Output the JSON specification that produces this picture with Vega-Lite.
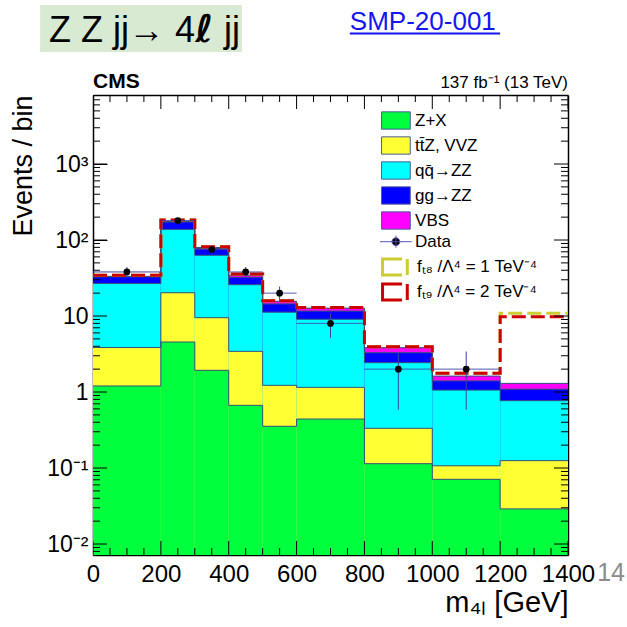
{
  "$schema": "https://vega.github.io/schema/vega-lite/v6.json",
  "width": 475,
  "height": 460,
  "autosize": {"type": "none"},
  "padding": {"left": 93, "top": 95, "right": 59, "bottom": 72},
  "background": "white",
  "config": {
    "view": {"stroke": null},
    "axis": {"grid": false, "domain": false, "ticks": true, "tickColor": "black", "tickOpacity": 1, "tickWidth": 1, "labelFont": "Liberation Sans", "titleFont": "Liberation Sans", "labelColor": "black", "titleColor": "black", "titleFontWeight": "normal", "zindex": 1, "labelFlush": false, "labelOverlap": false},
    "legend": {"labelFont": "Liberation Sans", "labelFontSize": 17, "labelColor": "black", "labelLimit": 300, "padding": 0, "symbolSize": 299, "labelOffset": 9.65, "rowPadding": 2.0, "symbolOpacity": 1},
    "text": {"font": "Liberation Sans"}
  },
  "datasets": {
    "mc": [
      {"lo": 0, "hi": 200, "key": "VBS", "k": 5, "v": 0.5},
      {"lo": 0, "hi": 200, "key": "ggZZ", "k": 4, "v": 5.9},
      {"lo": 0, "hi": 200, "key": "qqZZ", "k": 3, "v": 23.0},
      {"lo": 0, "hi": 200, "key": "ttZ", "k": 2, "v": 2.65},
      {"lo": 0, "hi": 200, "key": "ZX", "k": 1, "v": 1.2},
      {"lo": 200, "hi": 300, "key": "VBS", "k": 5, "v": 2.5},
      {"lo": 200, "hi": 300, "key": "ggZZ", "k": 4, "v": 34.5},
      {"lo": 200, "hi": 300, "key": "qqZZ", "k": 3, "v": 117.8},
      {"lo": 200, "hi": 300, "key": "ttZ", "k": 2, "v": 15.7},
      {"lo": 200, "hi": 300, "key": "ZX", "k": 1, "v": 4.55},
      {"lo": 300, "hi": 400, "key": "VBS", "k": 5, "v": 2.0},
      {"lo": 300, "hi": 400, "key": "ggZZ", "k": 4, "v": 14.8},
      {"lo": 300, "hi": 400, "key": "qqZZ", "k": 3, "v": 53.5},
      {"lo": 300, "hi": 400, "key": "ttZ", "k": 2, "v": 7.57},
      {"lo": 300, "hi": 400, "key": "ZX", "k": 1, "v": 1.93},
      {"lo": 400, "hi": 500, "key": "VBS", "k": 5, "v": 2.0},
      {"lo": 400, "hi": 500, "key": "ggZZ", "k": 4, "v": 6.5},
      {"lo": 400, "hi": 500, "key": "qqZZ", "k": 3, "v": 22.4},
      {"lo": 400, "hi": 500, "key": "ttZ", "k": 2, "v": 2.76},
      {"lo": 400, "hi": 500, "key": "ZX", "k": 1, "v": 0.668},
      {"lo": 500, "hi": 600, "key": "VBS", "k": 5, "v": 1.2},
      {"lo": 500, "hi": 600, "key": "ggZZ", "k": 4, "v": 3.2},
      {"lo": 500, "hi": 600, "key": "qqZZ", "k": 3, "v": 10.0},
      {"lo": 500, "hi": 600, "key": "ttZ", "k": 2, "v": 0.87},
      {"lo": 500, "hi": 600, "key": "ZX", "k": 1, "v": 0.354},
      {"lo": 600, "hi": 800, "key": "VBS", "k": 5, "v": 1.1},
      {"lo": 600, "hi": 800, "key": "ggZZ", "k": 4, "v": 2.53},
      {"lo": 600, "hi": 800, "key": "qqZZ", "k": 3, "v": 7.92},
      {"lo": 600, "hi": 800, "key": "ttZ", "k": 2, "v": 0.71},
      {"lo": 600, "hi": 800, "key": "ZX", "k": 1, "v": 0.441},
      {"lo": 800, "hi": 1000, "key": "VBS", "k": 5, "v": 0.54},
      {"lo": 800, "hi": 1000, "key": "ggZZ", "k": 4, "v": 0.86},
      {"lo": 800, "hi": 1000, "key": "qqZZ", "k": 3, "v": 2.10},
      {"lo": 800, "hi": 1000, "key": "ttZ", "k": 2, "v": 0.219},
      {"lo": 800, "hi": 1000, "key": "ZX", "k": 1, "v": 0.114},
      {"lo": 1000, "hi": 1200, "key": "VBS", "k": 5, "v": 0.22},
      {"lo": 1000, "hi": 1200, "key": "ggZZ", "k": 4, "v": 0.34},
      {"lo": 1000, "hi": 1200, "key": "qqZZ", "k": 3, "v": 0.953},
      {"lo": 1000, "hi": 1200, "key": "ttZ", "k": 2, "v": 0.036},
      {"lo": 1000, "hi": 1200, "key": "ZX", "k": 1, "v": 0.071},
      {"lo": 1200, "hi": 1400, "key": "VBS", "k": 5, "v": 0.21},
      {"lo": 1200, "hi": 1400, "key": "ggZZ", "k": 4, "v": 0.32},
      {"lo": 1200, "hi": 1400, "key": "qqZZ", "k": 3, "v": 0.644},
      {"lo": 1200, "hi": 1400, "key": "ttZ", "k": 2, "v": 0.096},
      {"lo": 1200, "hi": 1400, "key": "ZX", "k": 1, "v": 0.029}
    ],
    "sig": [
      {"lo": 0, "hi": 200, "key": "T8", "v": 34.3},
      {"lo": 200, "hi": 300, "key": "T8", "v": 183},
      {"lo": 300, "hi": 400, "key": "T8", "v": 81.6},
      {"lo": 400, "hi": 500, "key": "T8", "v": 35.7},
      {"lo": 500, "hi": 600, "key": "T8", "v": 15.9},
      {"lo": 600, "hi": 800, "key": "T8", "v": 12.9},
      {"lo": 800, "hi": 1000, "key": "T8", "v": 3.94},
      {"lo": 1000, "hi": 1200, "key": "T8", "v": 1.76},
      {"lo": 1200, "hi": 1400, "key": "T8", "v": 10.9},
      {"lo": 0, "hi": 200, "key": "T9", "v": 34.3},
      {"lo": 200, "hi": 300, "key": "T9", "v": 183},
      {"lo": 300, "hi": 400, "key": "T9", "v": 81.6},
      {"lo": 400, "hi": 500, "key": "T9", "v": 35.7},
      {"lo": 500, "hi": 600, "key": "T9", "v": 15.9},
      {"lo": 600, "hi": 800, "key": "T9", "v": 12.9},
      {"lo": 800, "hi": 1000, "key": "T9", "v": 3.94},
      {"lo": 1000, "hi": 1200, "key": "T9", "v": 1.76},
      {"lo": 1200, "hi": 1400, "key": "T9", "v": 9.8}
    ],
    "obs": [
      {"lo": 0, "hi": 200, "c": 100, "n": 38, "dn": 31.84, "up": 44.16},
      {"lo": 200, "hi": 300, "c": 250, "n": 180, "dn": 166.6, "up": 193.4},
      {"lo": 300, "hi": 400, "c": 350, "n": 75, "dn": 66.34, "up": 83.66},
      {"lo": 400, "hi": 500, "c": 450, "n": 38, "dn": 31.84, "up": 44.16},
      {"lo": 500, "hi": 600, "c": 550, "n": 20, "dn": 15.53, "up": 24.47},
      {"lo": 600, "hi": 800, "c": 700, "n": 8, "dn": 5.17, "up": 10.83},
      {"lo": 800, "hi": 1000, "c": 900, "n": 2, "dn": 0.586, "up": 3.414},
      {"lo": 1000, "hi": 1200, "c": 1100, "n": 2, "dn": 0.586, "up": 3.414}
    ],
    "xmajor": [{"tick": 0}, {"tick": 200}, {"tick": 400}, {"tick": 600}, {"tick": 800}, {"tick": 1000}, {"tick": 1200}, {"tick": 1400}],
    "xminor": [{"tick": 50}, {"tick": 100}, {"tick": 150}, {"tick": 250}, {"tick": 300}, {"tick": 350}, {"tick": 450}, {"tick": 500}, {"tick": 550}, {"tick": 650}, {"tick": 700}, {"tick": 750}, {"tick": 850}, {"tick": 900}, {"tick": 950}, {"tick": 1050}, {"tick": 1100}, {"tick": 1150}, {"tick": 1250}, {"tick": 1300}, {"tick": 1350}],
    "ymajor": [{"tick": 0.01}, {"tick": 0.1}, {"tick": 1}, {"tick": 10}, {"tick": 100}, {"tick": 1000}],
    "yminor": [{"tick": 0.008}, {"tick": 0.009}, {"tick": 0.02}, {"tick": 0.03}, {"tick": 0.04}, {"tick": 0.05}, {"tick": 0.06}, {"tick": 0.07}, {"tick": 0.08}, {"tick": 0.09}, {"tick": 0.2}, {"tick": 0.3}, {"tick": 0.4}, {"tick": 0.5}, {"tick": 0.6}, {"tick": 0.7}, {"tick": 0.8}, {"tick": 0.9}, {"tick": 2}, {"tick": 3}, {"tick": 4}, {"tick": 5}, {"tick": 6}, {"tick": 7}, {"tick": 8}, {"tick": 9}, {"tick": 20}, {"tick": 30}, {"tick": 40}, {"tick": 50}, {"tick": 60}, {"tick": 70}, {"tick": 80}, {"tick": 90}, {"tick": 200}, {"tick": 300}, {"tick": 400}, {"tick": 500}, {"tick": 600}, {"tick": 700}, {"tick": 800}, {"tick": 900}, {"tick": 2000}, {"tick": 3000}, {"tick": 4000}, {"tick": 5000}, {"tick": 6000}, {"tick": 7000}, {"tick": 8000}]
  },
  "layer": [
    {
      "data": {"name": "mc"},
      "transform": [{"stack": "v", "groupby": ["lo"], "sort": [{"field": "k", "order": "ascending"}], "as": ["y0", "y1"]}],
      "mark": {"type": "rect", "clip": true},
      "encoding": {
        "x": {"field": "lo", "type": "quantitative", "scale": {"domain": [0, 1400], "nice": false, "zero": false},
          "axis": {"orient": "bottom", "offset": -14, "ticks": true, "tickSize": 14, "values": [0, 200, 400, 600, 800, 1000, 1200, 1400], "format": "d", "labelFontSize": 24, "labelPadding": 7, "labelBaseline": "top",
            "encode": {"labels": {"update": {"dx": {"value": -3}}}},
            "title": "m\u2084\u2097 [GeV]", "titleFontSize": 29, "titleAnchor": "end", "titlePadding": 2}},
        "x2": {"field": "hi"},
        "y": {"field": "y1", "type": "quantitative", "scale": {"type": "log", "domain": [0.00717, 8090], "nice": false},
          "axis": {"orient": "left", "offset": -14, "ticks": true, "tickSize": 14, "values": [0.01, 0.1, 1, 10, 100, 1000], "labelFontSize": 23, "labelPadding": 5, "labelAlign": "right", "labelBaseline": "middle",
            "labelExpr": "datum.value == 1000 ? '10\u00b3' : datum.value == 100 ? '10\u00b2' : datum.value == 10 ? '10' : datum.value == 1 ? '1' : datum.value == 0.1 ? '10\u207b\u00b9' : '10\u207b\u00b2'",
            "encode": {"labels": {"update": {"dx": {"condition": {"test": "datum.value == 10 || datum.value == 1", "value": -8}, "value": 0}}}},
            "title": "Events / bin", "titleFontSize": 27, "titleAnchor": "end", "titlePadding": 9}},
        "y2": {"datum": 0.00717},
        "color": {"field": "key", "type": "nominal",
          "scale": {"domain": ["ZX", "ttZ", "qqZZ", "ggZZ", "VBS"], "range": ["#00ff3c", "#ffff33", "#00ffff", "#0000ff", "#ff00ff"]},
          "legend": {
            "orient": "none", "legendX": 293.4, "legendY": 16.0, "title": null,
            "labelExpr": "datum.label == 'ZX' ? 'Z+X' : datum.label == 'ttZ' ? 'tt\u0304Z, VVZ' : datum.label == 'qqZZ' ? 'qq\u0304\u2192ZZ' : datum.label == 'ggZZ' ? 'gg\u2192ZZ' : 'VBS'",
            "symbolType": "M-1.66,-1H1.66V1H-1.66Z", "symbolStrokeColor": "#4b5b9b", "symbolStrokeWidth": 1
          }},
        "order": {"field": "k", "type": "quantitative", "sort": "descending"}
      }
    },
    {
      "data": {"name": "mc"},
      "transform": [
        {"stack": "v", "groupby": ["lo"], "sort": [{"field": "k", "order": "ascending"}], "as": ["y0", "y1"]},
        {"fold": ["lo", "hi"], "as": ["edge", "xe"]}
      ],
      "mark": {"type": "line", "stroke": "#34507a", "strokeWidth": 1, "clip": true},
      "encoding": {
        "x": {"field": "xe", "type": "quantitative", "scale": {"domain": [0, 1400], "nice": false, "zero": false}, "axis": null},
        "y": {"field": "y1", "type": "quantitative", "scale": {"type": "log", "domain": [0.00717, 8090], "nice": false}, "axis": null},
        "detail": {"field": "key", "type": "nominal"},
        "order": [{"field": "xe", "type": "quantitative"}, {"field": "edge", "type": "ordinal"}]
      }
    },
    {
      "data": {"name": "sig"},
      "transform": [{"filter": "datum.key == 'T8'"}, {"fold": ["lo", "hi"], "as": ["edge", "xe"]}],
      "mark": {"type": "line", "strokeWidth": 3, "strokeDash": [14, 5], "clip": true},
      "encoding": {
        "x": {"field": "xe", "type": "quantitative", "scale": {"domain": [0, 1400], "nice": false, "zero": false}, "axis": null},
        "y": {"field": "v", "type": "quantitative", "scale": {"type": "log", "domain": [0.00717, 8090], "nice": false}, "axis": null},
        "stroke": {"field": "key", "type": "nominal", "scale": {"domain": ["T8", "T9"], "range": ["#cccc33", "#cc0000"]},
          "legend": {"orient": "none", "legendX": 293.4, "legendY": 161.5, "title": null, "rowPadding": -4.7,
            "labelExpr": "datum.label == 'T8' ? 'f\u209c\u2088 /\u039b\u2074 = 1 TeV\u207b\u2074' : 'f\u209c\u2089 /\u039b\u2074 = 2 TeV\u207b\u2074'",
            "symbolType": "M0.6,-0.92H-1.66V0.92H0.6M1.2,-0.92V0.92", "symbolFillColor": "transparent", "symbolStrokeWidth": 3, "symbolDash": []}},
        "order": [{"field": "xe", "type": "quantitative"}, {"field": "edge", "type": "ordinal"}]
      }
    },
    {
      "data": {"name": "sig"},
      "transform": [{"filter": "datum.key == 'T9'"}, {"fold": ["lo", "hi"], "as": ["edge", "xe"]}],
      "mark": {"type": "line", "strokeWidth": 3, "strokeDash": [14, 5], "clip": true},
      "encoding": {
        "x": {"field": "xe", "type": "quantitative", "scale": {"domain": [0, 1400], "nice": false, "zero": false}, "axis": null},
        "y": {"field": "v", "type": "quantitative", "scale": {"type": "log", "domain": [0.00717, 8090], "nice": false}, "axis": null},
        "stroke": {"field": "key", "type": "nominal", "scale": {"domain": ["T8", "T9"], "range": ["#cccc33", "#cc0000"]},
          "legend": {"orient": "none", "legendX": 293.4, "legendY": 161.5, "title": null, "rowPadding": -4.7,
            "labelExpr": "datum.label == 'T8' ? 'f\u209c\u2088 /\u039b\u2074 = 1 TeV\u207b\u2074' : 'f\u209c\u2089 /\u039b\u2074 = 2 TeV\u207b\u2074'",
            "symbolType": "M0.6,-0.92H-1.66V0.92H0.6M1.2,-0.92V0.92", "symbolFillColor": "transparent", "symbolStrokeWidth": 3, "symbolDash": []}},
        "order": [{"field": "xe", "type": "quantitative"}, {"field": "edge", "type": "ordinal"}]
      }
    },
    {
      "data": {"name": "obs"},
      "mark": {"type": "rule", "stroke": "#4040a8", "strokeWidth": 1},
      "encoding": {
        "x": {"field": "lo", "type": "quantitative", "scale": {"domain": [0, 1400], "nice": false, "zero": false},
          "axis": {"orient": "bottom", "ticks": false, "labels": false, "title": null, "domain": true, "domainColor": "black", "domainWidth": 1.5}},
        "x2": {"field": "hi"},
        "y": {"field": "n", "type": "quantitative", "scale": {"type": "log", "domain": [0.00717, 8090], "nice": false},
          "axis": {"orient": "left", "ticks": false, "labels": false, "title": null, "domain": true, "domainColor": "black", "domainWidth": 1.5}},
        "strokeDash": {"datum": "Data", "scale": {"domain": ["Data"], "range": [[1, 0]]},
          "legend": {"orient": "none", "legendX": 293.4, "legendY": 137.2, "title": null,
            "symbolType": "M-1.83,0H1.83M0,-0.7V0.7M0.45,0A0.45,0.45 0 1 1 -0.45,0A0.45,0.45 0 1 1 0.45,0Z", "symbolFillColor": "black", "symbolStrokeColor": "#5050b0", "symbolStrokeWidth": 1}}
      }
    },
    {
      "data": {"name": "obs"},
      "mark": {"type": "rule", "stroke": "#4040a8", "strokeWidth": 1},
      "encoding": {
        "x": {"field": "c", "type": "quantitative", "scale": {"domain": [0, 1400], "nice": false, "zero": false},
          "axis": {"orient": "top", "ticks": false, "labels": false, "title": null, "domain": true, "domainColor": "black", "domainWidth": 1.5}},
        "y": {"field": "dn", "type": "quantitative", "scale": {"type": "log", "domain": [0.00717, 8090], "nice": false},
          "axis": {"orient": "right", "ticks": false, "labels": false, "title": null, "domain": true, "domainColor": "black", "domainWidth": 1.5}},
        "y2": {"field": "up"}
      }
    },
    {
      "data": {"name": "obs"},
      "mark": {"type": "point", "shape": "circle", "filled": true, "color": "black", "size": 45, "opacity": 1},
      "encoding": {
        "x": {"field": "c", "type": "quantitative", "scale": {"domain": [0, 1400], "nice": false, "zero": false}, "axis": null},
        "y": {"field": "n", "type": "quantitative", "scale": {"type": "log", "domain": [0.00717, 8090], "nice": false}, "axis": null}
      }
    },
    {
      "data": {"name": "xmajor"},
      "mark": {"type": "tick", "orient": "vertical", "size": 28, "thickness": 1, "color": "black", "opacity": 1, "clip": true},
      "encoding": {
        "x": {"field": "tick", "type": "quantitative", "scale": {"domain": [0, 1400], "nice": false, "zero": false}, "axis": null},
        "y": {"datum": 0.00717, "type": "quantitative", "scale": {"type": "log", "domain": [0.00717, 8090], "nice": false}, "axis": null}
      }
    },
    {
      "data": {"name": "xmajor"},
      "mark": {"type": "tick", "orient": "vertical", "size": 28, "thickness": 1, "color": "black", "opacity": 1, "clip": true},
      "encoding": {
        "x": {"field": "tick", "type": "quantitative", "scale": {"domain": [0, 1400], "nice": false, "zero": false}, "axis": null},
        "y": {"datum": 8090, "type": "quantitative", "scale": {"type": "log", "domain": [0.00717, 8090], "nice": false}, "axis": null}
      }
    },
    {
      "data": {"name": "xminor"},
      "mark": {"type": "tick", "orient": "vertical", "size": 14, "thickness": 1, "color": "black", "opacity": 1, "clip": true},
      "encoding": {
        "x": {"field": "tick", "type": "quantitative", "scale": {"domain": [0, 1400], "nice": false, "zero": false}, "axis": null},
        "y": {"datum": 0.00717, "type": "quantitative", "scale": {"type": "log", "domain": [0.00717, 8090], "nice": false}, "axis": null}
      }
    },
    {
      "data": {"name": "xminor"},
      "mark": {"type": "tick", "orient": "vertical", "size": 14, "thickness": 1, "color": "black", "opacity": 1, "clip": true},
      "encoding": {
        "x": {"field": "tick", "type": "quantitative", "scale": {"domain": [0, 1400], "nice": false, "zero": false}, "axis": null},
        "y": {"datum": 8090, "type": "quantitative", "scale": {"type": "log", "domain": [0.00717, 8090], "nice": false}, "axis": null}
      }
    },
    {
      "data": {"name": "ymajor"},
      "mark": {"type": "tick", "orient": "horizontal", "size": 28, "thickness": 1, "color": "black", "opacity": 1, "clip": true},
      "encoding": {
        "y": {"field": "tick", "type": "quantitative", "scale": {"type": "log", "domain": [0.00717, 8090], "nice": false}, "axis": null},
        "x": {"datum": 0, "type": "quantitative", "scale": {"domain": [0, 1400], "nice": false, "zero": false}, "axis": null}
      }
    },
    {
      "data": {"name": "ymajor"},
      "mark": {"type": "tick", "orient": "horizontal", "size": 28, "thickness": 1, "color": "black", "opacity": 1, "clip": true},
      "encoding": {
        "y": {"field": "tick", "type": "quantitative", "scale": {"type": "log", "domain": [0.00717, 8090], "nice": false}, "axis": null},
        "x": {"datum": 1400, "type": "quantitative", "scale": {"domain": [0, 1400], "nice": false, "zero": false}, "axis": null}
      }
    },
    {
      "data": {"name": "yminor"},
      "mark": {"type": "tick", "orient": "horizontal", "size": 14, "thickness": 1, "color": "black", "opacity": 1, "clip": true},
      "encoding": {
        "y": {"field": "tick", "type": "quantitative", "scale": {"type": "log", "domain": [0.00717, 8090], "nice": false}, "axis": null},
        "x": {"datum": 0, "type": "quantitative", "scale": {"domain": [0, 1400], "nice": false, "zero": false}, "axis": null}
      }
    },
    {
      "data": {"name": "yminor"},
      "mark": {"type": "tick", "orient": "horizontal", "size": 14, "thickness": 1, "color": "black", "opacity": 1, "clip": true},
      "encoding": {
        "y": {"field": "tick", "type": "quantitative", "scale": {"type": "log", "domain": [0.00717, 8090], "nice": false}, "axis": null},
        "x": {"datum": 1400, "type": "quantitative", "scale": {"domain": [0, 1400], "nice": false, "zero": false}, "axis": null}
      }
    },
    {
      "data": {"values": [{}]},
      "mark": {"type": "rect", "fill": "#d9ead3"},
      "encoding": {
        "x": {"datum": -156, "type": "quantitative", "scale": {"domain": [0, 1400], "nice": false, "zero": false}, "axis": null},
        "x2": {"datum": 439},
        "y": {"datum": 123600, "type": "quantitative", "scale": {"type": "log", "domain": [0.00717, 8090], "nice": false}, "axis": null},
        "y2": {"datum": 29800}
      }
    },
    {
      "data": {"values": [{}]},
      "mark": {"type": "text", "text": "Z Z jj\u2192 4", "fontSize": 36, "align": "left", "baseline": "alphabetic", "fill": "black"},
      "encoding": {
        "x": {"datum": -130, "type": "quantitative", "scale": {"domain": [0, 1400], "nice": false, "zero": false}, "axis": null},
        "y": {"datum": 40300, "type": "quantitative", "scale": {"type": "log", "domain": [0.00717, 8090], "nice": false}, "axis": null}
      }
    },
    {
      "data": {"values": [{}]},
      "mark": {"type": "text", "text": "\u2113", "fontSize": 38, "fontWeight": "bold", "fontStyle": "italic", "font": "DejaVu Sans", "align": "left", "baseline": "alphabetic", "fill": "black"},
      "encoding": {
        "x": {"datum": 301, "type": "quantitative", "scale": {"domain": [0, 1400], "nice": false, "zero": false}, "axis": null},
        "y": {"datum": 40300, "type": "quantitative", "scale": {"type": "log", "domain": [0.00717, 8090], "nice": false}, "axis": null}
      }
    },
    {
      "data": {"values": [{}]},
      "mark": {"type": "text", "text": "jj", "fontSize": 36, "align": "left", "baseline": "alphabetic", "fill": "black"},
      "encoding": {
        "x": {"datum": 386, "type": "quantitative", "scale": {"domain": [0, 1400], "nice": false, "zero": false}, "axis": null},
        "y": {"datum": 40300, "type": "quantitative", "scale": {"type": "log", "domain": [0.00717, 8090], "nice": false}, "axis": null}
      }
    },
    {
      "data": {"values": [{}]},
      "mark": {"type": "text", "text": "SMP-20-001", "fontSize": 26, "align": "left", "baseline": "alphabetic", "fill": "#1515ee"},
      "encoding": {
        "x": {"datum": 757, "type": "quantitative", "scale": {"domain": [0, 1400], "nice": false, "zero": false}, "axis": null},
        "y": {"datum": 57900, "type": "quantitative", "scale": {"type": "log", "domain": [0.00717, 8090], "nice": false}, "axis": null}
      }
    },
    {
      "data": {"values": [{}]},
      "mark": {"type": "rule", "stroke": "#1515ee", "strokeWidth": 2},
      "encoding": {
        "x": {"datum": 757, "type": "quantitative", "scale": {"domain": [0, 1400], "nice": false, "zero": false}, "axis": null},
        "x2": {"datum": 1200},
        "y": {"datum": 52000, "type": "quantitative", "scale": {"type": "log", "domain": [0.00717, 8090], "nice": false}, "axis": null}
      }
    },
    {
      "data": {"values": [{}]},
      "mark": {"type": "text", "text": "CMS", "fontSize": 21, "fontWeight": "bold", "align": "left", "baseline": "alphabetic", "fill": "black"},
      "encoding": {
        "x": {"datum": 0, "type": "quantitative", "scale": {"domain": [0, 1400], "nice": false, "zero": false}, "axis": null},
        "y": {"datum": 10000, "type": "quantitative", "scale": {"type": "log", "domain": [0.00717, 8090], "nice": false}, "axis": null}
      }
    },
    {
      "data": {"values": [{}]},
      "mark": {"type": "text", "text": "137 fb\u207b\u00b9 (13 TeV)", "fontSize": 17, "align": "right", "baseline": "alphabetic", "fill": "black"},
      "encoding": {
        "x": {"datum": 1400, "type": "quantitative", "scale": {"domain": [0, 1400], "nice": false, "zero": false}, "axis": null},
        "y": {"datum": 10000, "type": "quantitative", "scale": {"type": "log", "domain": [0.00717, 8090], "nice": false}, "axis": null}
      }
    },
    {
      "data": {"values": [{}]},
      "mark": {"type": "text", "text": "14", "fontSize": 25, "align": "center", "baseline": "alphabetic", "fill": "#8c8c8c"},
      "encoding": {
        "x": {"datum": 1527, "type": "quantitative", "scale": {"domain": [0, 1400], "nice": false, "zero": false}, "axis": null},
        "y": {"datum": 0.00326, "type": "quantitative", "scale": {"type": "log", "domain": [0.00717, 8090], "nice": false}, "axis": null}
      }
    }
  ],
  "resolve": {"axis": {"x": "independent", "y": "independent"}}
}
